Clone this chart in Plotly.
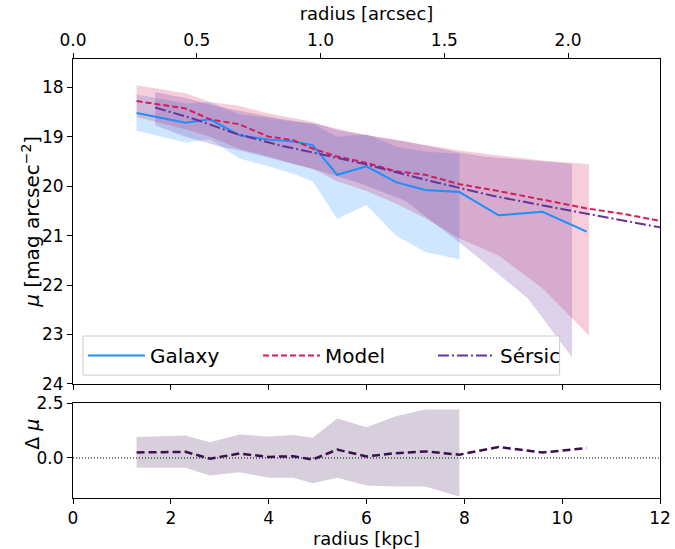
import plotly.graph_objects as go

# ---------------- data ----------------
r_gal = [1.3, 2.3, 2.8, 3.4, 4.0, 4.5, 4.9, 5.4, 6.0, 6.6, 7.2, 7.9, 8.7, 9.6, 10.5]
mu_gal = [18.52, 18.72, 18.65, 18.97, 19.06, 19.10, 19.17, 19.77, 19.60, 19.92, 20.08, 20.12, 20.59, 20.52, 20.92]

r_gal_band = [1.3, 2.3, 2.8, 3.4, 4.0, 4.5, 4.9, 5.4, 6.0, 6.6, 7.2, 7.9]
gal_hi = [18.15, 18.33, 18.30, 18.55, 18.62, 18.70, 18.74, 19.00, 18.95, 19.20, 19.30, 19.35]
gal_lo = [18.88, 19.12, 19.05, 19.44, 19.60, 19.75, 19.90, 20.66, 20.38, 21.00, 21.33, 21.48]

r_mod = [1.3, 2.3, 2.8, 3.4, 4.0, 4.5, 4.9, 5.4, 6.0, 6.6, 7.2, 7.9, 8.7, 9.6, 10.5, 11.3, 12.2]
mu_mod = [18.28, 18.43, 18.65, 18.75, 19.00, 19.07, 19.24, 19.40, 19.53, 19.70, 19.77, 19.96, 20.10, 20.28, 20.45, 20.57, 20.74]

r_mod_band = [1.3, 2.3, 2.8, 3.4, 4.0, 4.5, 4.9, 5.4, 6.0, 6.6, 7.2, 7.9, 8.7, 9.6, 10.55]
mod_hi = [17.96, 18.12, 18.30, 18.38, 18.53, 18.63, 18.70, 18.87, 18.97, 19.07, 19.17, 19.28, 19.38, 19.48, 19.56]
mod_lo = [18.60, 18.85, 19.00, 19.25, 19.40, 19.55, 19.65, 19.90, 20.10, 20.35, 20.65, 21.06, 21.40, 22.07, 23.02]

r_ser = [1.68, 2.5, 3.3, 4.2, 5.0, 5.9, 7.2, 8.6, 10.3, 12.2]
mu_ser = [18.41, 18.65, 18.93, 19.17, 19.34, 19.54, 19.87, 20.20, 20.52, 20.87]

r_ser_band = [1.68, 2.3, 3.0, 3.5, 4.3, 5.0, 5.9, 6.8, 7.9, 8.4, 9.3, 10.2]
ser_hi = [18.10, 18.22, 18.40, 18.50, 18.65, 18.75, 18.95, 19.10, 19.32, 19.40, 19.48, 19.55]
ser_lo = [18.77, 19.00, 19.20, 19.30, 19.50, 19.68, 19.95, 20.30, 21.14, 21.54, 22.27, 23.46]

res = [0.25, 0.28, -0.03, 0.20, 0.05, 0.08, -0.07, 0.38, 0.07, 0.22, 0.30, 0.15, 0.50, 0.25, 0.45]
r_res_band = [1.3, 2.3, 2.8, 3.4, 4.0, 4.5, 4.9, 5.4, 6.0, 6.6, 7.2, 7.9]
res_hi = [0.95, 1.02, 0.72, 1.07, 0.98, 1.05, 0.92, 1.80, 1.40, 1.90, 2.20, 2.20]
res_lo = [-0.45, -0.45, -0.80, -0.65, -0.90, -0.90, -1.15, -0.90, -1.25, -1.30, -1.30, -1.75]

KPC_TO_ARCSEC = 0.1976
XMAX = 12

# ---------------- styles ----------------
C_GAL = "#1E8FFF"
C_MOD = "#D81B5A"
C_SER = "#663399"
C_RES = "#3C0F50"
FONT = "DejaVu Sans"


def band(x, hi, lo, color, xa="x", ya="y"):
    return go.Scatter(x=list(x) + list(x)[::-1], y=list(hi) + list(lo)[::-1],
                      fill="toself", fillcolor=color, line=dict(width=0),
                      mode="lines", showlegend=False, hoverinfo="skip",
                      xaxis=xa, yaxis=ya)


fig = go.Figure()
fig.add_trace(band(r_gal_band, gal_hi, gal_lo, "rgba(30,143,255,0.22)"))
fig.add_trace(band(r_mod_band, mod_hi, mod_lo, "rgba(216,27,90,0.22)"))
fig.add_trace(band(r_ser_band, ser_hi, ser_lo, "rgba(102,51,153,0.22)"))

fig.add_trace(go.Scatter(x=r_gal, y=mu_gal, mode="lines", name="Galaxy",
                         line=dict(color=C_GAL, width=2)))
fig.add_trace(go.Scatter(x=r_mod, y=mu_mod, mode="lines", name="Model",
                         line=dict(color=C_MOD, width=2, dash="6px,3px")))
fig.add_trace(go.Scatter(x=r_ser, y=mu_ser, mode="lines", name="Sérsic",
                         line=dict(color=C_SER, width=2, dash="11px,3px,2px,3px")))

# residual panel
fig.add_trace(band(r_res_band, res_hi, res_lo, "rgba(60,15,80,0.2)", "x2", "y2"))
fig.add_trace(go.Scatter(x=[0, XMAX], y=[0, 0], mode="lines", showlegend=False,
                         line=dict(color="black", width=1, dash="1px,2px"),
                         xaxis="x2", yaxis="y2", hoverinfo="skip"))
fig.add_trace(go.Scatter(x=r_gal, y=res, mode="lines", showlegend=False,
                         line=dict(color=C_RES, width=2.5, dash="8px,4px"),
                         xaxis="x2", yaxis="y2"))

# dummy for top axis
fig.add_trace(go.Scatter(x=[0, XMAX * KPC_TO_ARCSEC], y=[None, None], mode="lines",
                         showlegend=False, hoverinfo="skip", xaxis="x3", yaxis="y"))

axis_common = dict(showgrid=False, zeroline=False, showline=True, linecolor="black",
                   linewidth=1, ticks="outside", ticklen=5, tickcolor="black",
                   automargin=False,
                   tickfont=dict(family=FONT, size=17, color="black"))

main_dom = [0.2597, 1.0]
res_dom = [0.0, 0.2164]

fig.update_layout(
    width=675, height=549,
    margin=dict(l=73, r=15, t=59, b=51),
    plot_bgcolor="white", paper_bgcolor="white",
    font=dict(family=FONT, size=17, color="black"),
    xaxis=dict(axis_common, domain=[0, 1], range=[0, XMAX], anchor="y",
               showticklabels=False, dtick=2, mirror=False),
    yaxis=dict(axis_common, domain=main_dom, range=[24, 17.43], anchor="x",
               dtick=1, mirror=True),
    xaxis2=dict(axis_common, domain=[0, 1], range=[0, XMAX], anchor="y2",
                dtick=2, mirror=True,
                title=dict(text="radius [kpc]", font=dict(family=FONT, size=18), standoff=2)),
    yaxis2=dict(axis_common, domain=res_dom, range=[-1.82, 2.5], anchor="x2",
                tickvals=[0, 2.5], ticktext=["0.0", "2.5"], mirror=True),
    xaxis3=dict(axis_common, overlaying="x", side="top", anchor="y",
                range=[0, XMAX * KPC_TO_ARCSEC], tickvals=[0, 0.5, 1.0, 1.5, 2.0],
                ticktext=["0.0", "0.5", "1.0", "1.5", "2.0"],
                title=dict(text="radius [arcsec]", font=dict(family=FONT, size=18), standoff=4)),
    legend=dict(orientation="h", x=0.017, y=0.28, xanchor="left", yanchor="bottom",
                bgcolor="rgba(255,255,255,0)", borderwidth=0,
                font=dict(family=FONT, size=20), entrywidth=103, itemwidth=57),
    shapes=[dict(type="rect", xref="paper", yref="paper", x0=0.017, x1=0.829,
                 y0=0.28, y1=0.369, line=dict(color="#cccccc", width=1),
                 fillcolor="rgba(255,255,255,0.8)", layer="above")],
    annotations=[
        dict(text="<i>μ</i> [mag arcsec<sup>−2</sup>]", xref="paper", yref="paper",
             x=-0.071, y=0.63, xanchor="center", yanchor="middle", textangle=-90,
             showarrow=False, font=dict(family=FONT, size=20)),
        dict(text="Δ <i>μ</i>", xref="paper", yref="paper",
             x=-0.069, y=0.145, xanchor="center", yanchor="middle", textangle=-90,
             showarrow=False, font=dict(family=FONT, size=19)),
    ],
    showlegend=True,
)

fig.write_html("out.html")
